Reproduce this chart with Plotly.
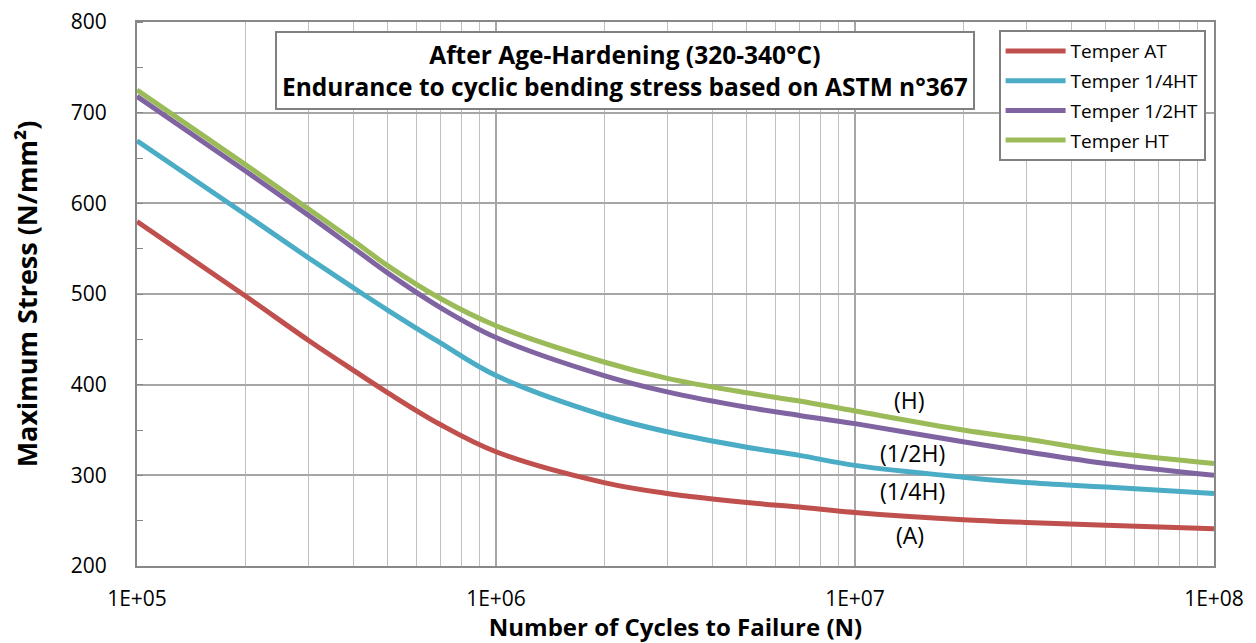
import math
import plotly.graph_objects as go

# cycles to failure (N) at which the curves were read
cycles = [1e5, 2e5, 3e5, 4e5, 5e5, 7e5, 1e6, 2e6, 3e6, 5e6, 7e6, 1e7, 2e7, 3e7, 5e7, 1e8]

# maximum stress (N/mm²) per temper
stress_at = [580, 498, 449, 416, 391, 356, 326, 292, 280, 270, 265, 259, 251, 248, 245, 241]
stress_qht = [669, 588, 540, 507, 482, 446, 410, 366, 348, 331, 322, 311, 298, 292, 287, 280]
stress_hht = [718, 636, 587, 551, 523, 485, 452, 410, 392, 375, 366, 357, 337, 326, 313, 300]
stress_ht = [725, 643, 594, 559, 531, 495, 465, 425, 407, 391, 382, 371, 350, 340, 326, 313]

series_names = ['Temper AT', 'Temper 1/4HT', 'Temper 1/2HT', 'Temper HT']
series_colors = ['#c0504d', '#4bacc6', '#8064a2', '#9bbb59']

x_tickvals = [1e5, 1e6, 1e7, 1e8]
x_ticktext = ['1E+05', '1E+06', '1E+07', '1E+08']

# curve labels: text, x (cycles), y (stress)
label_text = ['(H)', '(1/2H)', '(1/4H)', '(A)']
label_x = [1.42e7, 1.45e7, 1.45e7, 1.42e7]
label_y = [383, 325, 283, 234]

FONT = 'Open Sans'

fig = go.Figure()
for name, ys, color in zip(series_names, [stress_at, stress_qht, stress_hht, stress_ht], series_colors):
    fig.add_trace(go.Scatter(
        x=cycles, y=ys, name=name, mode='lines', legendgroup=name,
        line=dict(color=color, width=5, shape='spline', smoothing=1.0),
    ))

# annotations on a log axis take log10 positions
for t, lx, ly in zip(label_text, label_x, label_y):
    fig.add_annotation(x=math.log10(lx), y=ly, xref='x', yref='y', text=t, showarrow=False,
                       font=dict(family=FONT, size=23, color='black'))

fig.add_annotation(
    x=0.453, y=0.91, xref='paper', yref='paper', xanchor='center', yanchor='middle',
    showarrow=False,
    text='<b>After Age-Hardening (320-340°C)</b><br><b>Endurance to cyclic bending stress based on ASTM n°367</b>',
    font=dict(family=FONT, size=24.5, color='black'),
    bgcolor='white', bordercolor='#808080', borderwidth=2, borderpad=5,
    align='center',
)

# the page body adds an 8px margin, so the figure is drawn 8px smaller
fig.update_layout(
    width=1248, height=635,
    margin=dict(l=129, r=42, t=14, b=77),
    plot_bgcolor='white', paper_bgcolor='white',
    font=dict(family=FONT, color='black'),
    legend=dict(
        x=0.80, y=0.985, xanchor='left', yanchor='top',
        bgcolor='white', bordercolor='#808080', borderwidth=2,
        font=dict(family=FONT, size=19), itemwidth=60,
        tracegroupgap=2,
    ),
    xaxis=dict(
        type='log', range=[5, 8], automargin=False,
        tickvals=x_tickvals, ticktext=x_ticktext,
        tickfont=dict(family=FONT, size=21),
        showgrid=True, gridcolor='#a6a6a6', gridwidth=1.5,
        minor=dict(showgrid=True, gridcolor='#c0c0c0', gridwidth=1.2, dtick='D1'),
        showline=True, linecolor='#888888', linewidth=2, mirror=True,
        ticks='outside', ticklen=13, tickcolor='white',
        title=dict(text='<b>Number of Cycles to Failure (N)</b>',
                   font=dict(family=FONT, size=24), standoff=3),
        zeroline=False,
    ),
    yaxis=dict(
        range=[200, 800], dtick=100, automargin=False,
        tickfont=dict(family=FONT, size=21), ticklabeloverflow='allow',
        showgrid=True, gridcolor='#a6a6a6', gridwidth=1.5,
        showline=True, linecolor='#888888', linewidth=2, mirror=True,
        ticks='outside', ticklen=24, tickcolor='white',
        minor=dict(dtick=50, ticks='inside', ticklen=6, tickcolor='#888888', showgrid=False),
        title=dict(text='<b>Maximum Stress (N/mm²)</b>',
                   font=dict(family=FONT, size=27), standoff=44),
        zeroline=False,
    ),
)

fig.write_html('out.html')
